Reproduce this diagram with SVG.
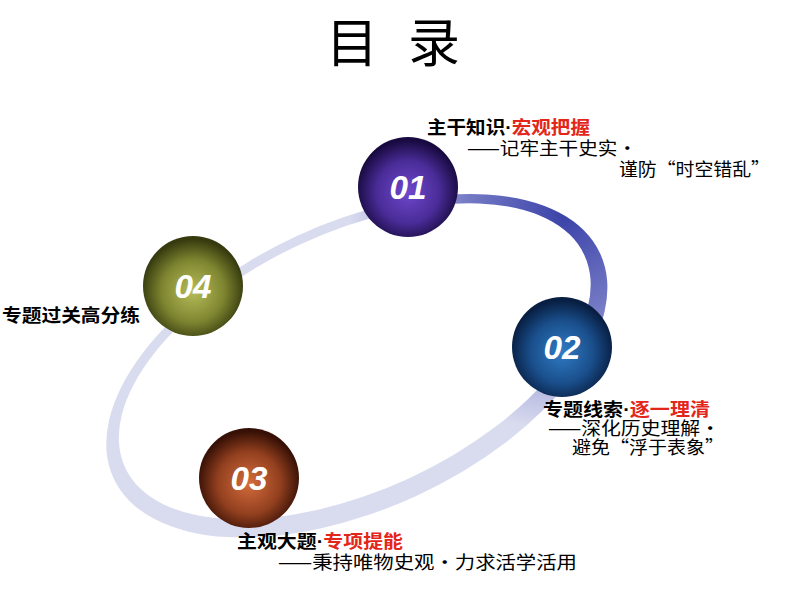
<svg xmlns="http://www.w3.org/2000/svg" width="794" height="596" viewBox="0 0 794 596">
<style>
.cj{font-family:"Noto Sans CJK SC","Noto Sans",sans-serif;fill:#000}
.b{font-weight:bold;font-size:18px}
.r{font-weight:normal;font-size:18px}
.red{fill:#e3261a}
.dot{font-family:"Liberation Sans",Arial,sans-serif}
.num{font-family:"Liberation Sans",Arial,sans-serif;font-weight:bold;font-style:italic;font-size:33px;fill:#fff;text-anchor:middle}
</style>
<defs>
<radialGradient id="ringG" gradientUnits="userSpaceOnUse" cx="608" cy="316" r="215">
<stop offset="0" stop-color="#3a42a8"/>
<stop offset="0.45" stop-color="#7479c4"/>
<stop offset="1" stop-color="#d9dbef"/>
</radialGradient>
<radialGradient id="g1" cx="50%" cy="55%" r="52%">
<stop offset="0" stop-color="#6e48cc"/><stop offset="0.6" stop-color="#4a2c98"/><stop offset="1" stop-color="#180a40"/>
</radialGradient>
<radialGradient id="g2" cx="50%" cy="55%" r="52%">
<stop offset="0" stop-color="#2f7cc4"/><stop offset="0.6" stop-color="#1a4f8c"/><stop offset="1" stop-color="#081e42"/>
</radialGradient>
<radialGradient id="g3" cx="50%" cy="55%" r="52%">
<stop offset="0" stop-color="#d46c3c"/><stop offset="0.6" stop-color="#93401f"/><stop offset="1" stop-color="#361005"/>
</radialGradient>
<radialGradient id="g4" cx="50%" cy="55%" r="52%">
<stop offset="0" stop-color="#b6bd5a"/><stop offset="0.6" stop-color="#7e8530"/><stop offset="1" stop-color="#363a0e"/>
</radialGradient>
</defs>
<rect width="794" height="596" fill="#fff"/>
<g id="title">
<text class="cj" x="352" y="62" font-size="52" text-anchor="middle">目</text>
<text class="cj" x="434" y="62" font-size="52" text-anchor="middle">录</text>
</g>
<g id="connectors">
<path transform="rotate(-24.8 356 364)" fill="url(#ringG)" fill-rule="evenodd" d="M88,366 A268,143 0 1 0 624,366 A268,143 0 1 0 88,366 Z M103,361 A253,129 0 1 0 609,361 A253,129 0 1 0 103,361 Z"/>
</g>
<g id="node01">
<circle cx="408" cy="187" r="50" fill="url(#g1)"/>
<text class="num" x="408" y="199" textLength="37" lengthAdjust="spacingAndGlyphs">01</text>
<text class="cj b" x="427" y="134" textLength="163" lengthAdjust="spacingAndGlyphs">主干知识<tspan class="dot">·</tspan><tspan class="red">宏观把握</tspan></text>
<text class="cj r" x="467" y="155" textLength="170" lengthAdjust="spacingAndGlyphs">——记牢主干史实・</text>
<text class="cj r" x="619" y="176" textLength="151" lengthAdjust="spacingAndGlyphs">谨防“时空错乱”</text>
</g>
<g id="node02">
<circle cx="562" cy="347" r="50" fill="url(#g2)"/>
<text class="num" x="562" y="359" textLength="37" lengthAdjust="spacingAndGlyphs">02</text>
<text class="cj b" x="543" y="416" textLength="167" lengthAdjust="spacingAndGlyphs">专题线索<tspan class="dot">·</tspan><tspan class="red">逐一理清</tspan></text>
<text class="cj r" x="548" y="435" textLength="172" lengthAdjust="spacingAndGlyphs">——深化历史理解・</text>
<text class="cj r" x="572" y="454" textLength="152" lengthAdjust="spacingAndGlyphs">避免“浮于表象”</text>
</g>
<g id="node03">
<circle cx="249" cy="478" r="50" fill="url(#g3)"/>
<text class="num" x="249" y="490" textLength="37" lengthAdjust="spacingAndGlyphs">03</text>
<text class="cj b" x="237" y="548" textLength="166" lengthAdjust="spacingAndGlyphs">主观大题<tspan class="dot">·</tspan><tspan class="red">专项提能</tspan></text>
<text class="cj r" x="278" y="569" textLength="299" lengthAdjust="spacingAndGlyphs">——秉持唯物史观・力求活学活用</text>
</g>
<g id="node04">
<circle cx="193" cy="286" r="50" fill="url(#g4)"/>
<text class="num" x="193" y="298" textLength="37" lengthAdjust="spacingAndGlyphs">04</text>
<text class="cj b" x="2" y="322" textLength="138" lengthAdjust="spacingAndGlyphs">专题过关高分练</text>
</g>
</svg>
